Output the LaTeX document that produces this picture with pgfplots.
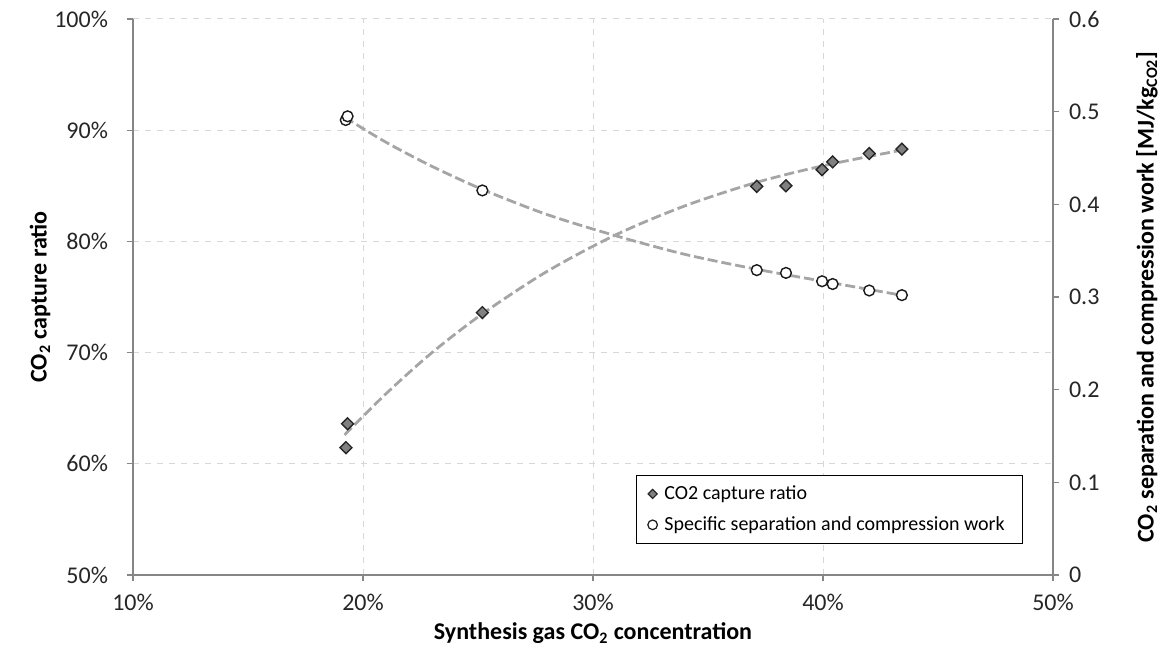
\documentclass[border=0pt]{standalone}
\usepackage{fontspec}
\setmainfont{Carlito}
\usepackage{pgfplots}
\pgfplotsset{compat=1.18}
\definecolor{axgray}{RGB}{134,134,134}
\definecolor{gridgray}{RGB}{215,215,215}
\definecolor{trendgray}{RGB}{165,165,165}
\definecolor{markgray}{RGB}{128,128,128}
\begin{document}
\begin{tikzpicture}
\pgfplotsset{
  every axis/.append style={font=\fontsize{12}{14}\selectfont},
  common/.style={
    scale only axis, width=460pt, height=278pt,
    xmin=10, xmax=50, clip=false,
    /pgf/number format/assume math mode=true,
    axis line style={axgray, line width=0.8pt},
    tick style={axgray, line width=0.6pt},
    tick align=outside, major tick length=3pt,
    ticklabel style={black!85},
  }
}
\begin{axis}[common,
  ymin=50, ymax=100,
  xtick={10,20,30,40,50}, ytick={50,60,70,80,90,100},
  xticklabel={\pgfmathprintnumber{\tick}\%},
  yticklabel={\pgfmathprintnumber{\tick}\%},
  yticklabel style={xshift=-6pt},
  xticklabel style={yshift=-3pt},
  axis y line*=left, axis x line*=bottom,
  grid=major, major grid style={gridgray, dashed, line width=0.5pt},
  xlabel={\textbf{Synthesis gas CO\textsubscript{2} concentration}},
  ylabel={\textbf{CO\textsubscript{2} capture ratio}},
  xlabel style={at={(axis description cs:0.5,0)}, anchor=center, yshift=-29pt},
  ylabel style={at={(axis description cs:-0.101,0.5)}, anchor=center},
]
\addplot[trendgray, line width=1.4pt, dash pattern=on 5pt off 2pt, smooth, forget plot] coordinates {
 (19.2,62.6) (21,66.3) (23,70.0) (25.2,73.5) (28,77.3) (31,80.6) (34,83.2) (37.1,85.3) (40,86.8) (43.4,88.2)};
\addplot[only marks, mark=square*, mark size=2.1pt, mark options={rotate=45, fill=markgray, draw=black!85, line width=0.7pt}, forget plot] coordinates {
 (19.26,61.45) (19.33,63.6) (25.19,73.6) (37.12,84.95) (38.39,85.0) (39.96,86.45) (40.42,87.15) (42.01,87.9) (43.43,88.3)};
\end{axis}
\begin{axis}[common,
  ymin=0, ymax=0.6,
  ytick={0,0.1,0.2,0.3,0.4,0.5,0.6},
  yticklabel style={/pgf/number format/fixed, /pgf/number format/precision=1, xshift=1.5pt},
  axis y line*=right, axis x line=none,
  ylabel={\textbf{CO\textsubscript{2} separation and compression work [MJ/kg\textsubscript{CO2}]}},
  ylabel style={at={(axis description cs:1.102,0.5)}, anchor=center},
  legend style={at={(0.547,0.056)}, anchor=south west, draw=black, line width=0.6pt,
    font=\fontsize{10}{12}\selectfont, cells={anchor=west}, row sep=3pt, inner xsep=5.5pt, inner ysep=3pt,
    nodes={inner xsep=3.5pt}},
]
\addlegendimage{only marks, mark=square*, mark size=1.6pt, mark options={rotate=45, fill=markgray, draw=black!85, line width=0.6pt}}
\addlegendentry{CO2 capture ratio}
\addlegendimage{only marks, mark=*, mark size=2.4pt, mark options={fill=white, draw=black!90, line width=0.6pt}}
\addlegendentry{Specific separation and compression work}
\addplot[trendgray, line width=1.4pt, dash pattern=on 5pt off 2pt, smooth, forget plot] coordinates {
 (19.2,0.494) (21,0.467) (23,0.441) (25.2,0.416) (28,0.389) (31,0.366) (34,0.346) (37.1,0.330) (40,0.317) (43.4,0.302)};
\addplot[only marks, mark=*, mark size=2.7pt, mark options={fill=white, draw=black!90, line width=0.7pt}, forget plot] coordinates {
 (19.25,0.491) (19.33,0.495) (25.19,0.415) (37.12,0.329) (38.39,0.326) (39.96,0.317) (40.42,0.314) (42.01,0.307) (43.43,0.302)};
\coordinate (bl) at (rel axis cs:0,0);
\coordinate (tr) at (rel axis cs:1,1);
\end{axis}
\pgfresetboundingbox
\path[use as bounding box] (bl) ++(-66.5pt,-39.5pt) rectangle ([shift={(59pt,9.5pt)}]tr);
\end{tikzpicture}
\end{document}
